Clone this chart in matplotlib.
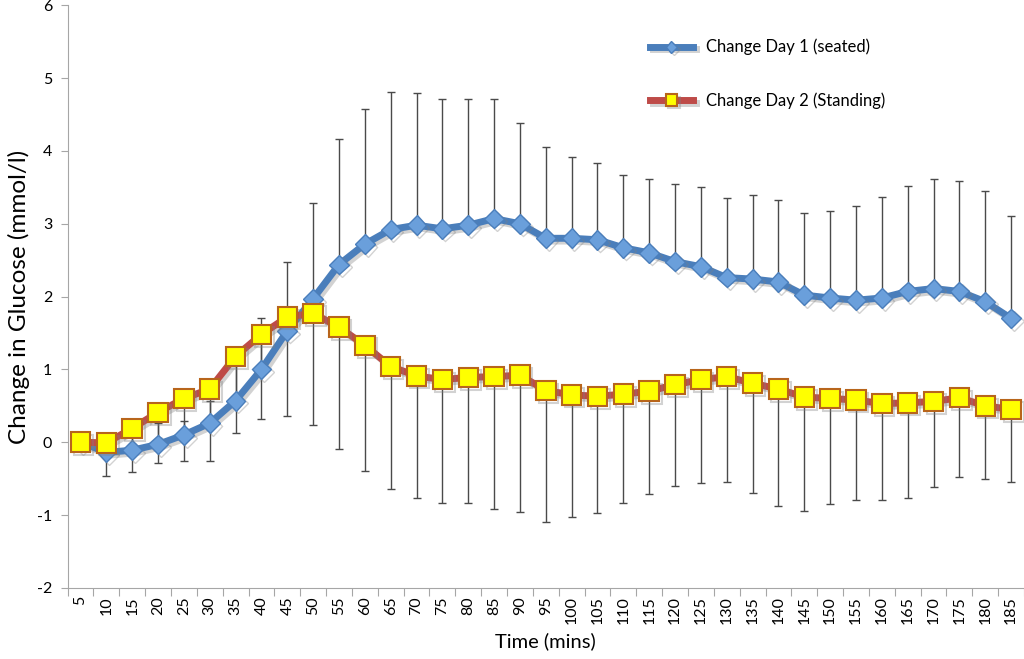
import numpy as np
import matplotlib
matplotlib.use('Agg')
import matplotlib.pyplot as plt
import matplotlib.patheffects as pe

plt.rcParams['font.family'] = ['Lato', 'DejaVu Sans']
plt.rcParams['axes.unicode_minus'] = False

# Datos
times = [5, 10, 15, 20, 25, 30, 35, 40, 45, 50, 55, 60, 65, 70, 75, 80, 85, 90, 95,
         100, 105, 110, 115, 120, 125, 130, 135, 140, 145, 150, 155, 160, 165, 170,
         175, 180, 185]

seated = [0.0, -0.14, -0.11, -0.03, 0.10, 0.26, 0.57, 1.00, 1.53, 1.97, 2.44, 2.72,
          2.92, 2.98, 2.93, 2.98, 3.07, 3.00, 2.80, 2.80, 2.78, 2.67, 2.60, 2.48,
          2.41, 2.26, 2.24, 2.20, 2.02, 1.98, 1.95, 1.98, 2.07, 2.11, 2.07, 1.93, 1.70]
seated_upper = [0.0, 0.05, 0.12, 0.27, 0.29, 0.57, 1.10, 1.71, 2.48, 3.28, 4.16, 4.58,
                4.81, 4.79, 4.71, 4.71, 4.71, 4.39, 4.05, 3.92, 3.84, 3.67, 3.61, 3.54,
                3.50, 3.35, 3.39, 3.33, 3.15, 3.17, 3.25, 3.37, 3.52, 3.61, 3.58, 3.45, 3.10]

standing = [0.0, -0.01, 0.19, 0.41, 0.60, 0.73, 1.18, 1.48, 1.72, 1.77, 1.58, 1.33,
            1.04, 0.91, 0.86, 0.89, 0.90, 0.92, 0.71, 0.65, 0.63, 0.66, 0.70, 0.79,
            0.86, 0.90, 0.81, 0.73, 0.62, 0.60, 0.58, 0.53, 0.54, 0.56, 0.61, 0.50, 0.45]
standing_lower = [0.0, -0.47, -0.41, -0.29, -0.26, -0.26, 0.13, 0.32, 0.36, 0.23, -0.10,
                  -0.40, -0.64, -0.77, -0.83, -0.84, -0.92, -0.96, -1.09, -1.03, -0.97,
                  -0.84, -0.71, -0.60, -0.56, -0.55, -0.70, -0.87, -0.95, -0.85, -0.80,
                  -0.79, -0.76, -0.62, -0.48, -0.50, -0.54]

x = np.arange(len(times))
seated = np.array(seated)
standing = np.array(standing)
err_up = np.array(seated_upper) - seated
err_dn = standing - np.array(standing_lower)

fig = plt.figure(figsize=(10.24, 6.59), dpi=100)
ax = fig.add_axes([0.066, 0.108, 0.934, 0.884])

ecol = '#4a4a4a'
ax.errorbar(x, standing, yerr=[err_dn, np.zeros_like(err_dn)], fmt='none',
            ecolor=ecol, elinewidth=1, capsize=3, capthick=1, zorder=1)
ax.errorbar(x, seated, yerr=[np.zeros_like(err_up), err_up], fmt='none',
            ecolor=ecol, elinewidth=1, capsize=3, capthick=1, zorder=1)

shadow = [pe.SimpleLineShadow(offset=(2, -2), shadow_color='gray', alpha=0.35), pe.Normal()]

ax.plot(x, seated, c='#4A7EBB', lw=5, marker='D', ms=10, mfc='#6A9FDB',
        mec='#4A7EBB', mew=1, label='Change Day 1 (seated)', zorder=3,
        path_effects=shadow)
ax.plot(x, standing, c='#BE4B48', lw=5, marker='s', ms=14, mfc='#FFFF00',
        mec='#B8651B', mew=1.5, label='Change Day 2 (Standing)', zorder=4,
        path_effects=shadow)

ax.set_xlim(-0.5, len(times) - 0.5)
ax.set_ylim(-2, 6)
ax.set_yticks(range(-2, 7))

# marcas entre categorias, etiquetas en el centro
ax.set_xticks(np.arange(-0.5, len(times)), minor=False)
ax.set_xticklabels([])
ax.set_xticks(x, minor=True)
ax.set_xticklabels([str(t) for t in times], minor=True, rotation=90, fontsize=11.5)
ax.tick_params(axis='x', which='major', length=6, color='#a6a6a6', direction='out')
ax.tick_params(axis='x', which='minor', length=0, pad=6)
ax.tick_params(axis='y', length=5, color='#a6a6a6', labelsize=11.5, pad=6)

for s in ['top', 'right']:
    ax.spines[s].set_visible(False)
for s in ['left', 'bottom']:
    ax.spines[s].set_color('#a6a6a6')

ax.set_ylabel('Change in Glucose (mmol/l)', fontsize=17.5, labelpad=5)
ax.set_xlabel('Time (mins)', fontsize=14.5, labelpad=6)

leg = ax.legend(loc='upper left', bbox_to_anchor=(0.593, 0.968), frameon=False,
                fontsize=12, labelspacing=2.2, handlelength=2.6, markerscale=0.6)

fig.savefig('out.png', dpi=100)
